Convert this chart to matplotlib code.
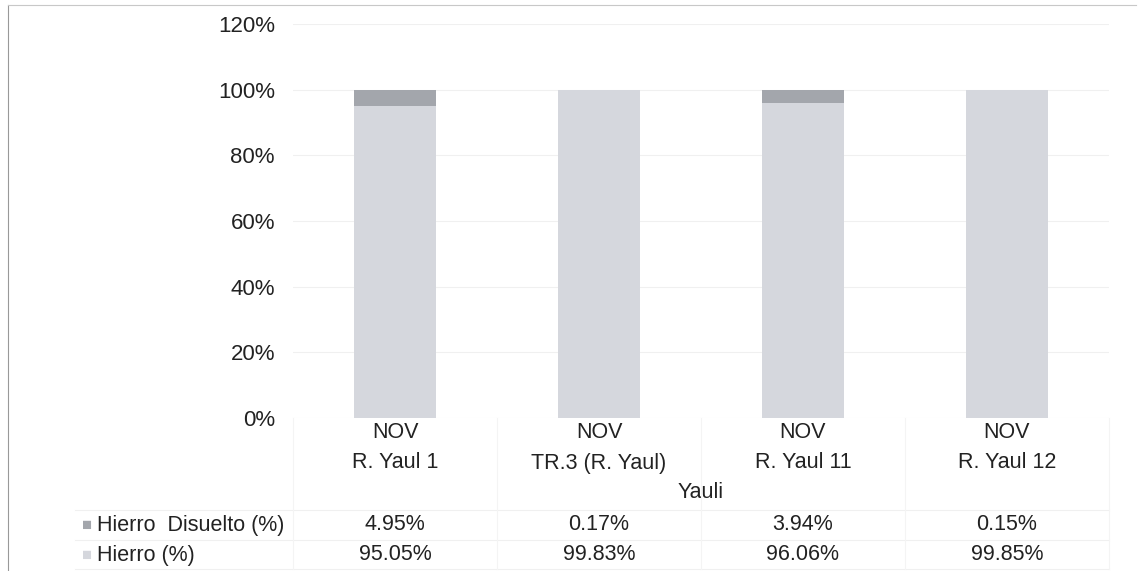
import matplotlib
matplotlib.use("Agg")
from matplotlib import pyplot as plt
from matplotlib import transforms
import numpy as np

plt.rcParams['font.family'] = ['Liberation Sans', 'DejaVu Sans']

months = ['NOV', 'NOV', 'NOV', 'NOV']
stations = ['R. Yaul 1', 'TR.3 (R. Yaul)', 'R. Yaul 11', 'R. Yaul 12']
group_label = 'Yauli'
hierro_disuelto = [4.95, 0.17, 3.94, 0.15]
hierro = [95.05, 99.83, 96.06, 99.85]
series_names = ['Hierro  Disuelto (%)', 'Hierro (%)']
y_ticks = [0, 20, 40, 60, 80, 100, 120]

C_HIERRO = '#d5d7dd'
C_DISUELTO = '#a3a6ac'
TXT = '#222222'
FS = 15.5

W, H = 1139, 571
fig = plt.figure(figsize=(W / 100, H / 100), dpi=100)
ax = fig.add_axes([293 / W, 1 - 418 / H, (1109 - 293) / W, (418 - 24) / H])

x = np.arange(len(stations))
ax.bar(x, hierro, width=0.4, color=C_HIERRO, zorder=2)
ax.bar(x, hierro_disuelto, width=0.4, bottom=hierro, color=C_DISUELTO, zorder=2)

ax.set_xlim(-0.5, len(stations) - 0.5)
ax.set_ylim(0, 120)
ax.set_yticks(y_ticks)
ax.set_yticklabels(['%d%%' % v for v in y_ticks], fontsize=16, color=TXT)
ax.tick_params(axis='y', length=0, pad=13)
ax.set_xticks([])
ax.grid(axis='y', color='#f0f0f0', linewidth=0.8, zorder=0)
for s in ax.spines.values():
    s.set_visible(False)

# category labels and table below the axes
tr = transforms.blended_transform_factory(ax.transData, fig.transFigure)
for i in x:
    ax.text(i, 1 - 433 / H, months[i], transform=tr, ha='center', va='center',
            fontsize=FS, color=TXT)
    ax.text(i, 1 - 463 / H, stations[i], transform=tr, ha='center', va='center',
            fontsize=FS, color=TXT)
    ax.text(i, 1 - 525 / H, '%.2f%%' % hierro_disuelto[i], transform=tr,
            ha='center', va='center', fontsize=FS, color=TXT)
    ax.text(i, 1 - 555 / H, '%.2f%%' % hierro[i], transform=tr,
            ha='center', va='center', fontsize=FS, color=TXT)
ax.text(1.5, 1 - 492 / H, group_label, transform=tr, ha='center', va='center',
        fontsize=FS, color=TXT)

# table row labels with legend keys
for yy, name, col in [(525, series_names[0], C_DISUELTO), (555, series_names[1], C_HIERRO)]:
    fig.text(82 / W, 1 - yy / H, '\u25a0', ha='left', va='center', fontsize=12, color=col)
    fig.text(97 / W, 1 - yy / H, name, ha='left', va='center', fontsize=FS, color=TXT)

# faint table lines
for yy in [510, 540, 569]:
    fig.add_artist(plt.Line2D([75 / W, 1109 / W], [1 - yy / H] * 2, color='#f0f0f0', lw=0.8))
for xx in [293, 497, 701, 905, 1109]:
    fig.add_artist(plt.Line2D([xx / W] * 2, [1 - 418 / H, 1 - 569 / H], color='#f4f4f4', lw=0.8))

# outer border
fig.add_artist(plt.Line2D([8 / W, 8 / W], [0, 1 - 5 / H], color='#999999', lw=0.8))
fig.add_artist(plt.Line2D([8 / W, 1 - 3 / W], [1 - 5 / H, 1 - 5 / H], color='#c8c8c8', lw=0.8))

fig.savefig('out.png', dpi=100)
